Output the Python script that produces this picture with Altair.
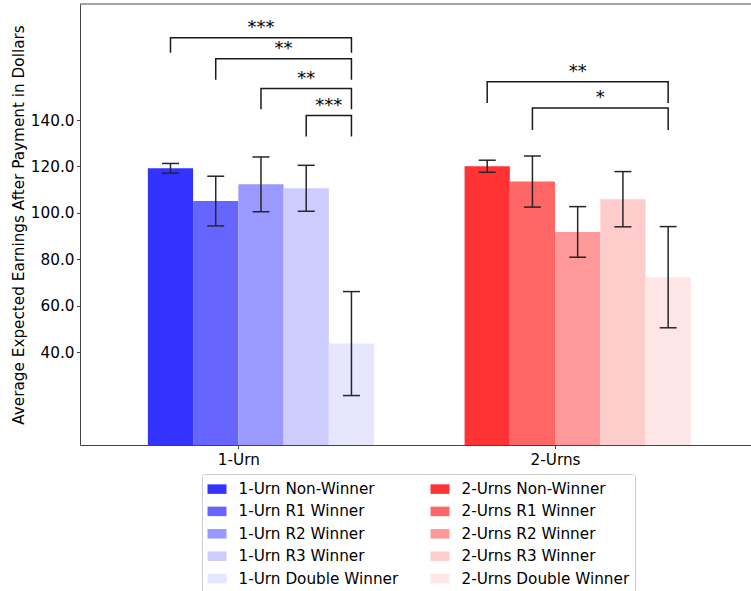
import altair as alt
import pandas as pd

# ---- data -----------------------------------------------------------------
groups = ["1-Urn", "2-Urns"]
winner_types = ["Non-Winner", "R1 Winner", "R2 Winner", "R3 Winner", "Double Winner"]

one_urn_means = [119.2, 105.1, 112.3, 110.6, 43.7]
one_urn_errors = [2.1, 10.7, 11.8, 9.9, 22.4]
two_urns_means = [120.1, 113.5, 91.8, 105.9, 72.3]
two_urns_errors = [2.6, 11.0, 10.9, 11.9, 21.8]

blue_shades = ["#3333ff", "#6666ff", "#9999ff", "#ccccff", "#e6e6ff"]
red_shades = ["#ff3333", "#ff6666", "#ff9999", "#ffcccc", "#ffe6e6"]

# significance brackets: group, first bar, last bar, bracket top, leg end, stars
bracket_groups = ["1-Urn", "1-Urn", "1-Urn", "1-Urn", "2-Urns", "2-Urns"]
bracket_from = [0, 1, 2, 3, 0, 1]
bracket_to = [4, 4, 4, 4, 4, 4]
bracket_tops = [175.5, 166.4, 153.6, 142.0, 156.5, 145.2]
bracket_legs = [169.0, 157.4, 144.7, 132.9, 147.3, 135.7]
bracket_stars = ["***", "**", "**", "***", "**", "*"]

y_ticks = [40, 60, 80, 100, 120, 140]

# ---- layout constants -----------------------------------------------------
BAR_W = 1 / 7
PLOT_W, PLOT_H = 671, 441
FONT = "DejaVu Sans"
FS = 15.25
Y_TITLE = "Average Expected Earnings After Payment in Dollars"


def bar_left(g, k):
    return g + (k - 2) * BAR_W


def bar_center(g, k):
    return bar_left(g, k) + BAR_W / 2


means = {groups[0]: one_urn_means, groups[1]: two_urns_means}
errors = {groups[0]: one_urn_errors, groups[1]: two_urns_errors}
shades = {groups[0]: blue_shades, groups[1]: red_shades}

rows = []
legend_order, legend_colors = [], []
for g, grp in enumerate(groups):
    for k, wt in enumerate(winner_types):
        m, e = means[grp][k], errors[grp][k]
        rows.append({
            "series": f"{grp} {wt}",
            "left": bar_left(g, k),
            "right": bar_left(g, k) + BAR_W,
            "center": bar_center(g, k),
            "mean": m,
            "lo": m - e,
            "hi": m + e,
        })
        legend_order.append(f"{grp} {wt}")
        legend_colors.append(shades[grp][k])
bar_df = pd.DataFrame(rows)

line_rows, text_rows = [], []
for i in range(len(bracket_stars)):
    g = groups.index(bracket_groups[i])
    x0 = bar_center(g, bracket_from[i])
    x1 = bar_center(g, bracket_to[i])
    top, leg = bracket_tops[i], bracket_legs[i]
    for j, (xx, yy) in enumerate([(x0, leg), (x0, top), (x1, top), (x1, leg)]):
        line_rows.append({"bracket": i, "order": j, "x": xx, "y": yy})
    text_rows.append({"x": (x0 + x1) / 2, "y": top, "stars": bracket_stars[i]})
bracket_df = pd.DataFrame(line_rows)
star_df = pd.DataFrame(text_rows)

# ---- scales & axes ---------------------------------------------------------
x_scale = alt.Scale(domain=[-0.5, -0.5 + PLOT_W / 316.7], nice=False, zero=False)
y_scale = alt.Scale(domain=[0, 190], nice=False, zero=False)

label_list = "[" + ",".join(f"'{g}'" for g in groups) + "]"
x_axis = alt.Axis(
    values=[0, 1], labelExpr=f"{label_list}[datum.value]", grid=False,
    tickSize=3.5, labelPadding=4, labelFontSize=FS, labelFont=FONT,
    labelColor="#000000", domainColor="#444444", tickColor="#444444",
    labelAngle=0, title=None,
)
y_axis = alt.Axis(
    values=y_ticks, format=".1f", grid=False, tickSize=3.5, labelPadding=2.5,
    labelFontSize=FS, labelFont=FONT, labelColor="#000000",
    domainColor="#444444", tickColor="#444444", title=Y_TITLE,
    titleFontSize=FS, titleFont=FONT, titleFontWeight="normal",
    titleColor="#000000", titleX=-54, titleY=PLOT_H / 2,
)


def xenc(field):
    return alt.X(field, type="quantitative", scale=x_scale, axis=x_axis, title=None)


def yenc(field):
    return alt.Y(field, type="quantitative", scale=y_scale, axis=y_axis, title=Y_TITLE)


legend = alt.Legend(
    orient="none", legendX=122, legendY=470, columns=2, title=None,
    symbolType="M-1,-0.5H1V0.5H-1Z", symbolSize=361, symbolStrokeWidth=0,
    symbolOpacity=1, labelFontSize=FS, labelFont=FONT, labelColor="#000000",
    labelLimit=300, labelOffset=12, rowPadding=4.4, columnPadding=32,
    padding=5.5, strokeColor="#cccccc", cornerRadius=3, fillColor="#ffffff",
)

# ---- layers ---------------------------------------------------------------
bars = alt.Chart(bar_df).mark_bar().encode(
    x=xenc("left"),
    x2="right:Q",
    y=yenc("mean"),
    y2=alt.datum(0),
    color=alt.Color("series:N", scale=alt.Scale(domain=legend_order, range=legend_colors),
                    legend=legend),
)

err_color = "#262626"
err_lines = alt.Chart(bar_df).mark_rule(color=err_color, strokeWidth=1.5).encode(
    x=xenc("center"),
    y=yenc("lo"),
    y2="hi:Q",
)
caps_lo = alt.Chart(bar_df).mark_tick(color=err_color, orient="horizontal", size=17,
                                      thickness=1.5, opacity=1).encode(
    x=xenc("center"),
    y=yenc("lo"),
)
caps_hi = alt.Chart(bar_df).mark_tick(color=err_color, orient="horizontal", size=17,
                                      thickness=1.5, opacity=1).encode(
    x=xenc("center"),
    y=yenc("hi"),
)

bracket_lines = alt.Chart(bracket_df).mark_line(color="#1a1a1a", strokeWidth=1.5).encode(
    x=xenc("x"),
    y=yenc("y"),
    detail="bracket:N",
    order="order:Q",
)
bracket_text = alt.Chart(star_df).mark_text(
    font=FONT, fontSize=18, color="#000000", align="center", baseline="alphabetic", dy=-4.5,
).encode(
    x=xenc("x"),
    y=yenc("y"),
    text="stars:N",
)

top_spine = alt.Chart(pd.DataFrame({"edge": [0]})).mark_rule(
    color="#444444", strokeWidth=1
).encode(x=alt.value(0), x2=alt.value(PLOT_W), y=alt.value(0))

chart = alt.layer(
    bars, err_lines, caps_lo, caps_hi, bracket_lines, bracket_text, top_spine
).properties(
    width=PLOT_W, height=PLOT_H,
    autosize=alt.AutoSizeParams(type="none"),
    padding={"left": 80, "top": 4, "right": 0, "bottom": 146},
    background="#ffffff",
).configure_view(stroke=None)

chart.save("out.html", embed_options={"renderer": "svg", "actions": False})
